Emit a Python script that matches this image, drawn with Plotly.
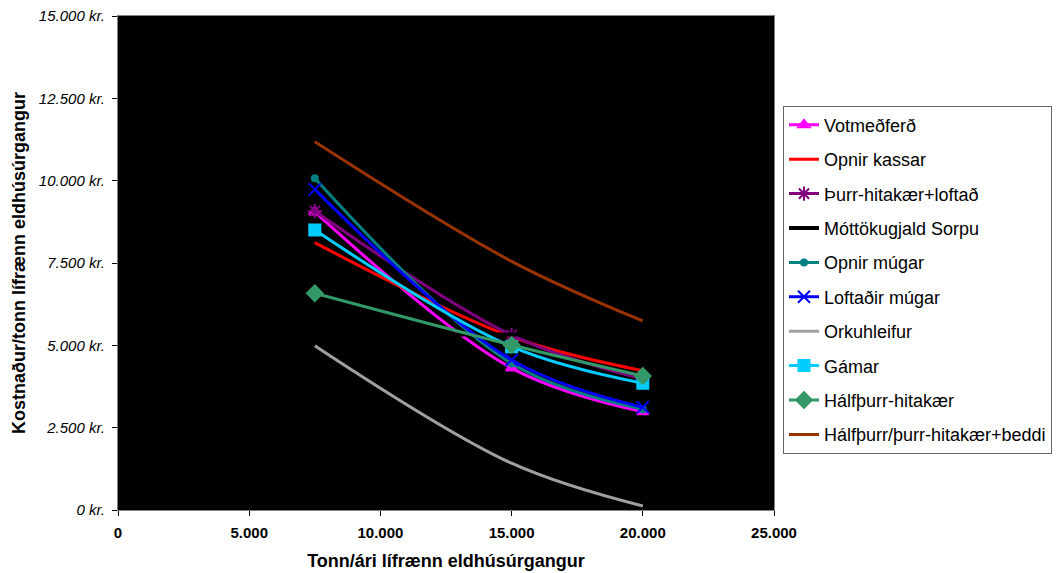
import plotly.graph_objects as go

x_tonn = [7500, 15000, 20000]

series_names = [
    "Votmeðferð",
    "Opnir kassar",
    "Þurr-hitakær+loftað",
    "Móttökugjald Sorpu",
    "Opnir múgar",
    "Loftaðir múgar",
    "Orkuhleifur",
    "Gámar",
    "Hálfþurr-hitakær",
    "Hálfþurr/þurr-hitakær+beddi",
]

votmedferd = [9050, 4310, 2985]
opnir_kassar = [8120, 5260, 4230]
thurr_hitakaer_loftad = [9080, 5310, 3980]
mottokugjald_x = [0, 25000]
mottokugjald = [5330, 5330]
opnir_mugar = [10070, 4450, 3060]
loftadir_mugar = [9735, 4555, 3120]
orkuhleifur = [4990, 1420, 120]
gamar = [8500, 4960, 3850]
halfthurr = [6580, 5010, 4070]
halfthurr_beddi = [11180, 7550, 5740]

FONT = "Liberation Sans, Arial, sans-serif"

styles = [
    dict(color="#FF00FF", symbol="triangle-up", size=10, lw=3),
    dict(color="#FF0000", symbol=None, size=0, lw=3),
    dict(color="#800080", symbol="asterisk-open", size=12, lw=3),
    dict(color="#000000", symbol=None, size=0, lw=4),
    dict(color="#008080", symbol="circle", size=6, lw=3),
    dict(color="#0000FF", symbol="x-thin-open", size=12, lw=3),
    dict(color="#A0A0A0", symbol=None, size=0, lw=3),
    dict(color="#00CCFF", symbol="square", size=11, lw=3),
    dict(color="#339966", symbol="diamond", size=12, lw=3),
    dict(color="#993300", symbol=None, size=0, lw=3),
]

data_y = [votmedferd, opnir_kassar, thurr_hitakaer_loftad, mottokugjald,
          opnir_mugar, loftadir_mugar, orkuhleifur, gamar, halfthurr,
          halfthurr_beddi]

fig = go.Figure()
for i, (name, ys, st) in enumerate(zip(series_names, data_y, styles)):
    xs = mottokugjald_x if name == "Móttökugjald Sorpu" else x_tonn
    if st["symbol"]:
        mode = "lines+markers"
        marker = dict(symbol=st["symbol"], size=st["size"], color=st["color"],
                      line=dict(color=st["color"], width=2))
    else:
        mode = "lines"
        marker = None
    fig.add_trace(go.Scatter(
        x=xs, y=ys, name=name, mode=mode,
        line=dict(color=st["color"], width=st["lw"], shape="spline", smoothing=1),
        marker=marker, legendgroup=f"g{i}",
    ))

fig.update_layout(
    width=1064, height=573,
    margin=dict(l=118, r=288, t=16, b=63),
    paper_bgcolor="white",
    plot_bgcolor="black",
    separators=",.",
    font=dict(family=FONT, color="black"),
    legend=dict(
        x=1.0137, y=0.8186, xanchor="left", yanchor="top",
        bgcolor="white", bordercolor="#666666", borderwidth=1,
        font=dict(family=FONT, size=18, color="black"),
        tracegroupgap=8, traceorder="grouped",
    ),
    xaxis=dict(
        range=[0, 25000], tickmode="linear", tick0=0, dtick=5000,
        tickformat=",.0f", showgrid=False, zeroline=False, automargin=False,
        showline=True, linecolor="#808080", linewidth=1, mirror=True,
        ticks="outside", ticklen=5, tickcolor="black",
        ticklabelstandoff=4,
        tickfont=dict(family=FONT, size=15, weight="bold"),
        title=dict(text="Tonn/ári lífrænn eldhúsúrgangur",
                   font=dict(family=FONT, size=18, weight="bold"), standoff=14),
    ),
    yaxis=dict(
        range=[0, 15000], tickmode="linear", tick0=0, dtick=2500,
        tickformat=",.0f", ticksuffix=" kr.", showgrid=False, zeroline=False,
        automargin=False,
        showline=True, linecolor="#808080", linewidth=1, mirror=True,
        ticks="outside", ticklen=5, tickcolor="black",
        ticklabelstandoff=4,
        tickfont=dict(family=FONT, size=15, style="italic"),
        title=dict(text="Kostnaður/tonn lífrænn eldhúsúrgangur",
                   font=dict(family=FONT, size=18, weight="bold"), standoff=8),
    ),
)

fig.write_html("out.html")
